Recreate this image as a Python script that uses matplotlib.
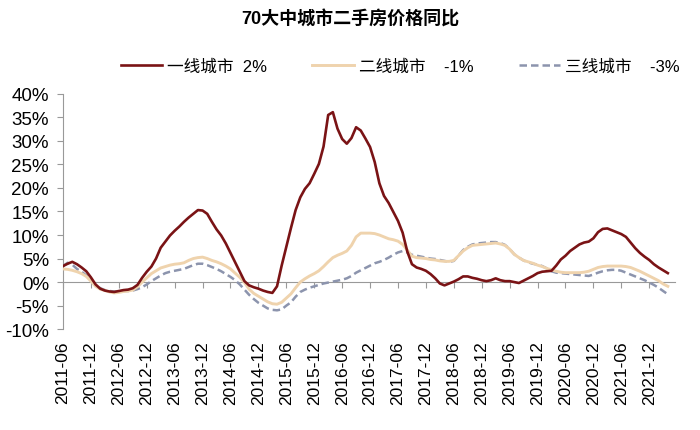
import numpy as np
import matplotlib.pyplot as plt

plt.rcParams['font.family'] = ['Liberation Sans', 'Noto Sans CJK SC', 'DejaVu Sans']

# 月度数据 2011-06 ~ 2022-04 (%)
tier1 = [3.4, 3.9, 4.3, 3.8, 3.1, 2.3, 1.0, -0.5, -1.4, -1.8,
         -2.0, -2.1, -1.9, -1.7, -1.6, -1.3, -0.6, 0.9, 2.2, 3.3,
         5.0, 7.3, 8.6, 9.9, 10.9, 11.8, 12.8, 13.7, 14.5, 15.3,
         15.2, 14.5, 12.8, 11.2, 9.9, 8.2, 6.2, 4.2, 2.2, 0.2,
         -0.7, -1.1, -1.4, -1.8, -2.1, -2.3, -0.9, 3.5, 7.5, 11.5,
         15.3, 18.0, 19.8, 21.0, 23.0, 25.1, 28.8, 35.5, 36.1, 32.6,
         30.4, 29.4, 30.6, 32.9, 32.2, 30.5, 28.7, 25.5, 21.0, 18.3,
         16.8, 14.9, 13.0, 10.5, 6.5, 3.8, 3.1, 2.8, 2.4, 1.7,
         0.8, -0.3, -0.7, -0.3, 0.1, 0.6, 1.2, 1.2, 0.9, 0.7,
         0.4, 0.2, 0.4, 0.8, 0.4, 0.2, 0.2, 0.0, -0.2, 0.3,
         0.8, 1.3, 1.9, 2.2, 2.3, 2.4, 3.5, 4.8, 5.6, 6.6,
         7.3, 8.0, 8.4, 8.6, 9.3, 10.6, 11.3, 11.4, 11.0, 10.6,
         10.2, 9.6, 8.4, 7.2, 6.2, 5.4, 4.7, 3.8, 3.1, 2.5,
         1.9]
tier2 = [2.8, 2.7, 2.5, 2.2, 1.8, 1.2, 0.2, -0.9, -1.5, -1.8,
         -2.1, -2.3, -2.2, -2.0, -1.9, -1.7, -1.0, 0.0, 0.9, 1.8,
         2.4, 3.0, 3.3, 3.6, 3.8, 3.9, 4.1, 4.6, 5.0, 5.2,
         5.3, 5.0, 4.6, 4.3, 3.9, 3.4, 2.8, 1.9, 1.0, -0.1,
         -1.5, -2.4, -3.0, -3.6, -4.2, -4.6, -4.7, -4.3, -3.4, -2.5,
         -1.2, 0.0, 0.7, 1.3, 1.8, 2.4, 3.3, 4.3, 5.2, 5.7,
         6.1, 6.6, 7.8, 9.6, 10.4, 10.4, 10.4, 10.3, 10.0, 9.6,
         9.2, 9.0, 8.7, 8.0, 6.8, 5.5, 5.2, 5.1, 5.0, 4.8,
         4.7, 4.5, 4.4, 4.4, 4.6, 5.6, 6.6, 7.3, 7.8, 7.9,
         8.0, 8.1, 8.2, 8.3, 8.1, 7.8, 7.0, 5.9, 5.2, 4.6,
         4.3, 4.0, 3.6, 3.3, 2.9, 2.6, 2.3, 2.1, 2.0, 2.0,
         2.0, 2.0, 2.1, 2.3, 2.7, 3.1, 3.3, 3.4, 3.4, 3.4,
         3.4, 3.3, 3.1, 2.7, 2.3, 1.8, 1.3, 0.8, 0.3, -0.4,
         -0.9]
tier3 = [3.4, 4.1, 3.7, 2.8, 2.2, 1.4, 0.4, -0.6, -1.3, -1.7,
         -1.9, -2.0, -2.0, -1.9, -1.9, -1.8, -1.5, -1.1, -0.5, 0.2,
         0.8, 1.4, 1.9, 2.2, 2.4, 2.6, 2.8, 3.2, 3.6, 3.9,
         3.9, 3.6, 3.2, 2.8, 2.3, 1.7, 1.1, 0.4, -0.5, -1.6,
         -2.7, -3.6, -4.4, -5.0, -5.6, -5.9, -6.0, -5.8, -5.0, -4.3,
         -3.1, -2.1, -1.6, -1.2, -0.9, -0.6, -0.3, -0.1, 0.1, 0.3,
         0.5, 0.8, 1.3, 2.0, 2.5, 3.0, 3.5, 4.0, 4.3, 4.7,
         5.2, 5.8, 6.3, 6.6, 6.3, 5.8, 5.6, 5.4, 5.2, 5.0,
         4.9, 4.7, 4.5, 4.3, 4.5, 5.6, 6.8, 7.5, 8.0, 8.2,
         8.3, 8.4, 8.5, 8.5, 8.3, 7.9, 7.0, 5.9, 5.2, 4.6,
         4.2, 3.9, 3.7, 3.4, 2.9, 2.3, 2.0, 1.9, 1.8, 1.7,
         1.6, 1.5, 1.4, 1.3, 1.6, 2.0, 2.3, 2.5, 2.6, 2.6,
         2.4, 2.0, 1.6, 1.2, 0.8, 0.4, -0.1, -0.6, -1.2, -1.9,
         -2.6]
tick_labels = ['2011-06', '2011-12', '2012-06', '2012-12', '2013-06', '2013-12',
               '2014-06', '2014-12', '2015-06', '2015-12', '2016-06', '2016-12',
               '2017-06', '2017-12', '2018-06', '2018-12', '2019-06', '2019-12',
               '2020-06', '2020-12', '2021-06', '2021-12']
legend_labels = ['一线城市  2%', '二线城市    -1%', '三线城市    -3%']

x = np.arange(len(tier1))
ticks = np.arange(len(tick_labels)) * 6

fig = plt.figure(figsize=(7, 4.31), dpi=100)
ax = fig.add_axes([0.09, 0.234, 0.874, 0.546])

l1, = ax.plot(x, tier1, color='#7a1315', lw=1.9, zorder=4)
l2, = ax.plot(x, tier2, color='#efd3ad', lw=2.1, zorder=3)
l3, = ax.plot(x, tier3, color='#8c94ad', lw=1.8, ls=(0, (3, 1.6)), zorder=2)

ax.set_ylim(-10, 40)
ax.set_xlim(0, len(tier1) + 0.5)
ax.set_yticks(np.arange(-10, 41, 5))
ax.set_yticklabels([f'{v}%' for v in range(-10, 41, 5)], fontsize=13.5)
ax.tick_params(axis='y', direction='out', length=4, color='#999999', pad=6)

# x 轴线在 0 处, 标签放在底部
ax.set_xticks(ticks)
ax.set_xticklabels(tick_labels, rotation=90, fontsize=12.5)
ax.tick_params(axis='x', length=0, pad=8)
ax.spines['bottom'].set_visible(False)
ax.spines['top'].set_visible(False)
ax.spines['right'].set_visible(False)
ax.spines['left'].set_color('#999999')

zero_ax = ax.secondary_xaxis(0.2)
zero_ax.set_xticks(ticks)
zero_ax.set_xticklabels([])
zero_ax.tick_params(direction='out', length=4, color='#999999')
zero_ax.spines['bottom'].set_color('#999999')

fig.text(0.5, 0.955, '70大中城市二手房价格同比', ha='center', va='center',
         fontsize=13, fontweight='bold')
fig.legend([l1, l2, l3], legend_labels, loc='center', bbox_to_anchor=(0.572, 0.845),
           ncol=3, frameon=False, fontsize=12, handlelength=2.5, columnspacing=2.7,
           handletextpad=0.3)

plt.savefig('out.png', dpi=100)
